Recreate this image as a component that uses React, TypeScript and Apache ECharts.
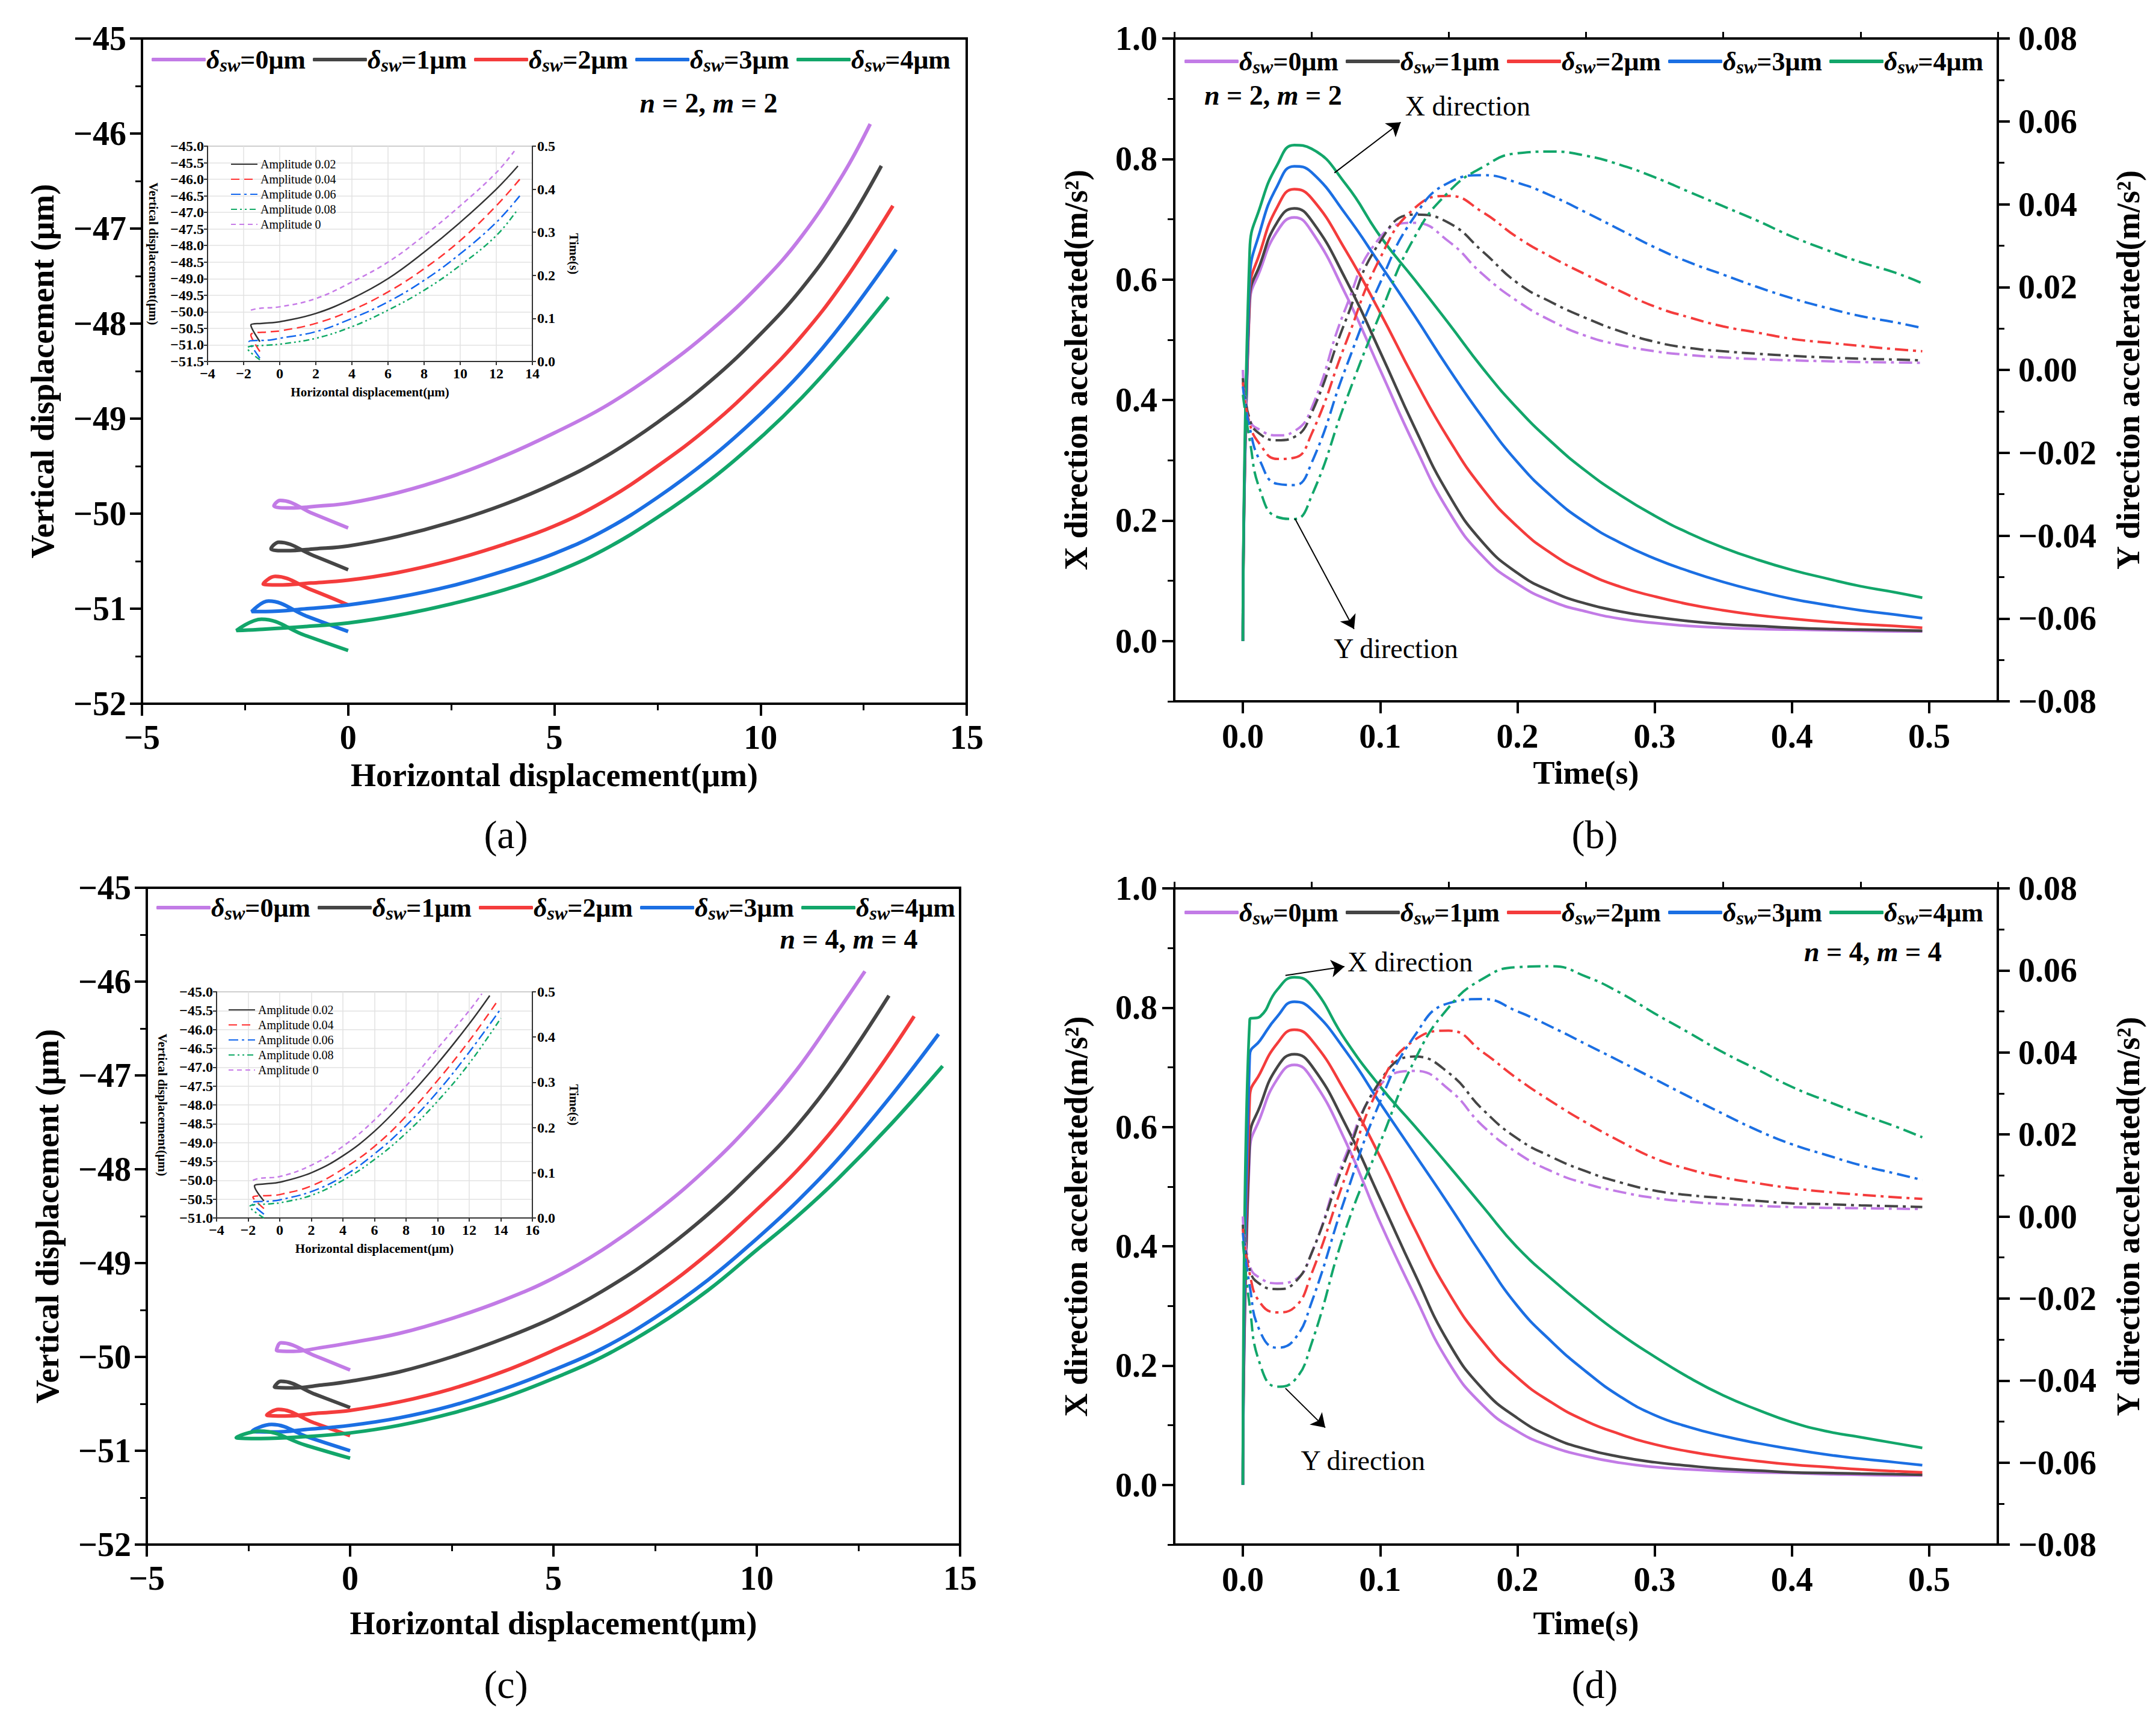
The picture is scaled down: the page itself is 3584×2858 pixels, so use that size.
import React, { useEffect, useRef } from 'react';
import * as echarts from 'echarts';

const SERIF = '"Liberation Serif", "Times New Roman", "DejaVu Serif", serif';

// legend names (the zero-width suffix keeps each panel's legend separate)
const swNames = ['δsw=0μm', 'δsw=1μm', 'δsw=2μm', 'δsw=3μm', 'δsw=4μm'];
const ampNames = ['Amplitude 0.02', 'Amplitude 0.04', 'Amplitude 0.06', 'Amplitude 0.08', 'Amplitude 0'];
const swColors = ['#c27be6', '#454545', '#f43c3c', '#1b6fe3', '#12a66a'];
const ampColors = ['#333333', '#ff3333', '#1166ee', '#11aa66', '#c77ce8'];

// (a) trajectories, n = 2, m = 2  [horizontal, vertical] in μm
const trajA0 = [[0, -50.15], [-0.85, -50.0], [-1.65, -49.86], [-1.8, -49.92], [-1.4, -49.94], [-0.7, -49.92], [0, -49.89], [1.2, -49.78], [2.5, -49.61], [3.8, -49.39], [5, -49.15], [6.2, -48.88], [7.5, -48.51], [8.8, -48.07], [10, -47.58], [11, -47.08], [12, -46.43], [12.66, -45.9]];
const trajA1 = [[0, -50.59], [-0.85, -50.44], [-1.68, -50.3], [-1.87, -50.37], [-1.5, -50.39], [-0.8, -50.37], [0, -50.34], [1.2, -50.24], [2.5, -50.09], [3.8, -49.9], [5, -49.68], [6.2, -49.41], [7.5, -49.04], [8.8, -48.6], [10, -48.11], [11, -47.63], [12, -47.03], [12.93, -46.34]];
const trajA2 = [[0, -50.96], [-0.9, -50.8], [-1.77, -50.66], [-2.06, -50.74], [-1.7, -50.75], [-0.9, -50.73], [0, -50.7], [1.2, -50.62], [2.5, -50.49], [3.8, -50.32], [5, -50.13], [6.2, -49.87], [7.5, -49.5], [8.8, -49.07], [10, -48.59], [11, -48.13], [12, -47.57], [13.21, -46.76]];
const trajA3 = [[0, -51.24], [-1, -51.08], [-1.93, -50.92], [-2.34, -51.03], [-2, -51.03], [-1, -51.0], [0, -50.96], [1.2, -50.88], [2.5, -50.76], [3.8, -50.6], [5, -50.42], [6.2, -50.18], [7.5, -49.83], [8.8, -49.41], [10, -48.95], [11, -48.51], [12, -47.99], [13.29, -47.22]];
const trajA4 = [[0, -51.44], [-1.05, -51.28], [-2.1, -51.11], [-2.71, -51.23], [-2.2, -51.22], [-1.1, -51.19], [0, -51.15], [1.2, -51.07], [2.5, -50.95], [3.8, -50.8], [5, -50.62], [6.2, -50.38], [7.5, -50.04], [8.8, -49.64], [10, -49.2], [11, -48.78], [12, -48.3], [13.1, -47.72]];

// (c) trajectories, n = 4, m = 4
const trajC0 = [[0, -50.14], [-0.85, -49.99], [-1.7, -49.85], [-1.81, -49.93], [-1.4, -49.94], [-0.7, -49.9], [0, -49.85], [1.2, -49.75], [2.5, -49.59], [3.8, -49.39], [5, -49.16], [6.2, -48.86], [7.5, -48.46], [8.8, -47.98], [10, -47.45], [11, -46.93], [12, -46.31], [12.66, -45.89]];
const trajC1 = [[0, -50.54], [-0.85, -50.4], [-1.7, -50.26], [-1.86, -50.32], [-1.4, -50.33], [-0.7, -50.3], [0, -50.26], [1.2, -50.16], [2.5, -50.0], [3.8, -49.8], [5, -49.58], [6.2, -49.3], [7.5, -48.93], [8.8, -48.48], [10, -47.99], [11, -47.53], [12, -46.97], [13.25, -46.15]];
const trajC2 = [[0, -50.84], [-0.9, -50.7], [-1.76, -50.56], [-2.05, -50.62], [-1.6, -50.63], [-0.8, -50.6], [0, -50.57], [1.2, -50.48], [2.5, -50.34], [3.8, -50.15], [5, -49.93], [6.2, -49.68], [7.5, -49.33], [8.8, -48.9], [10, -48.43], [11, -48.01], [12, -47.51], [13, -46.93], [13.87, -46.37]];
const trajC3 = [[0, -51.0], [-1, -50.86], [-1.93, -50.72], [-2.41, -50.79], [-1.9, -50.8], [-1, -50.77], [0, -50.73], [1.2, -50.65], [2.5, -50.52], [3.8, -50.34], [5, -50.14], [6.2, -49.91], [7.5, -49.58], [8.8, -49.18], [10, -48.74], [11, -48.34], [12, -47.89], [13.3, -47.22], [14.47, -46.56]];
const trajC4 = [[0, -51.08], [-1.1, -50.94], [-2.21, -50.79], [-2.8, -50.86], [-2.2, -50.87], [-1.1, -50.85], [0, -50.81], [1.2, -50.73], [2.5, -50.6], [3.8, -50.43], [5, -50.23], [6.2, -50.0], [7.5, -49.68], [8.8, -49.29], [10, -48.86], [11, -48.5], [12, -48.1], [13.3, -47.52], [14.57, -46.9]];

// insets (vertical vs horizontal projection of the 3D view)
const insetA0 = [[-1.1, -50.9], [-1.6, -50.4], [-1.0, -50.35], [0, -50.3], [2, -50.05], [4, -49.6], [6, -49.0], [8, -48.2], [10, -47.3], [12, -46.3], [13.2, -45.6]];
const insetA1 = [[-1.1, -51.2], [-1.6, -50.7], [-0.5, -50.6], [0, -50.58], [2, -50.35], [4, -49.95], [6, -49.4], [8, -48.7], [10, -47.85], [12, -46.8], [13.3, -46.0]];
const insetA2 = [[-1.1, -51.4], [-1.7, -50.9], [-0.5, -50.85], [0, -50.8], [2, -50.6], [4, -50.2], [6, -49.7], [8, -49.05], [10, -48.25], [12, -47.3], [13.3, -46.5]];
const insetA3 = [[-1.1, -51.45], [-1.8, -51.1], [-0.5, -51.0], [0, -50.98], [2, -50.8], [4, -50.45], [6, -49.95], [8, -49.35], [10, -48.6], [12, -47.7], [13.2, -46.9]];
const insetA4 = [[-1.6, -49.95], [-1.2, -49.9], [0, -49.85], [2, -49.6], [4, -49.1], [6, -48.5], [8, -47.7], [10, -46.8], [12, -45.8], [13, -45.15]];

const insetC0 = [[-1.0, -50.55], [-1.6, -50.15], [-1, -50.1], [0, -50.05], [2, -49.8], [4, -49.35], [6, -48.7], [8, -47.85], [10, -46.9], [12, -45.85], [13.3, -45.1]];
const insetC1 = [[-1.0, -50.75], [-1.7, -50.45], [-0.5, -50.4], [0, -50.38], [2, -50.15], [4, -49.7], [6, -49.1], [8, -48.3], [10, -47.35], [12, -46.3], [13.7, -45.3]];
const insetC2 = [[-1.0, -50.9], [-1.8, -50.6], [-0.5, -50.55], [0, -50.52], [2, -50.3], [4, -49.9], [6, -49.3], [8, -48.55], [10, -47.65], [12, -46.6], [14, -45.45]];
const insetC3 = [[-1.0, -51.0], [-1.9, -50.7], [-0.5, -50.62], [0, -50.6], [2, -50.4], [4, -50.0], [6, -49.45], [8, -48.75], [10, -47.9], [12, -46.9], [14, -45.7]];
const insetC4 = [[-1.7, -50.0], [-1.3, -49.95], [0, -49.9], [2, -49.6], [4, -49.1], [6, -48.4], [8, -47.5], [10, -46.5], [12, -45.5], [12.8, -45.05]];

// time samples for (b) and (d), seconds
const timeS = [0, 0.005, 0.0125, 0.025, 0.0375, 0.05, 0.075, 0.1, 0.125, 0.15, 0.175, 0.2, 0.225, 0.25, 0.275, 0.3, 0.325, 0.35, 0.375, 0.4, 0.425, 0.45, 0.475, 0.495];

// (b) X direction acceleration, m/s²
const accXB0 = [0, 0.56, 0.615, 0.68, 0.703, 0.68, 0.575, 0.45, 0.325, 0.215, 0.14, 0.095, 0.066, 0.049, 0.037, 0.03, 0.025, 0.022, 0.02, 0.019, 0.018, 0.017, 0.016, 0.016];
const accXB1 = [0, 0.57, 0.625, 0.695, 0.718, 0.698, 0.6, 0.48, 0.355, 0.243, 0.163, 0.113, 0.082, 0.062, 0.049, 0.04, 0.033, 0.028, 0.025, 0.022, 0.02, 0.019, 0.018, 0.017];
const accXB2 = [0, 0.58, 0.645, 0.72, 0.75, 0.735, 0.648, 0.545, 0.435, 0.335, 0.252, 0.19, 0.145, 0.113, 0.09, 0.074, 0.061, 0.051, 0.043, 0.037, 0.032, 0.028, 0.025, 0.022];
const accXB3 = [0, 0.6, 0.68, 0.755, 0.788, 0.778, 0.708, 0.625, 0.54, 0.452, 0.37, 0.297, 0.24, 0.196, 0.163, 0.137, 0.116, 0.098, 0.083, 0.07, 0.06, 0.051, 0.044, 0.038];
const accXB4 = [0, 0.65, 0.72, 0.79, 0.823, 0.817, 0.758, 0.672, 0.6, 0.527, 0.452, 0.386, 0.33, 0.282, 0.242, 0.208, 0.179, 0.155, 0.135, 0.118, 0.104, 0.091, 0.081, 0.072];

// (b) Y direction acceleration, m/s²
const accYB0 = [0, -0.012, -0.0145, -0.0158, -0.0148, -0.0093, 0.015, 0.032, 0.0355, 0.031, 0.023, 0.0166, 0.0118, 0.0082, 0.006, 0.0045, 0.0036, 0.003, 0.0026, 0.0023, 0.0021, 0.0019, 0.0018, 0.0017];
const accYB1 = [-0.002, -0.012, -0.0155, -0.017, -0.0162, -0.0105, 0.012, 0.031, 0.0375, 0.0355, 0.0285, 0.021, 0.0163, 0.0125, 0.0093, 0.0068, 0.0053, 0.0045, 0.0039, 0.0034, 0.003, 0.0027, 0.0025, 0.0023];
const accYB2 = [-0.003, -0.013, -0.018, -0.0215, -0.0212, -0.0155, 0.0065, 0.027, 0.039, 0.042, 0.038, 0.032, 0.0272, 0.023, 0.019, 0.0153, 0.0127, 0.0105, 0.009, 0.0075, 0.0066, 0.0058, 0.005, 0.0045];
const accYB3 = [-0.004, -0.014, -0.022, -0.0275, -0.0278, -0.0225, 0.0005, 0.021, 0.037, 0.0452, 0.047, 0.0452, 0.042, 0.038, 0.0338, 0.0296, 0.026, 0.023, 0.02, 0.0173, 0.015, 0.013, 0.0115, 0.0101];
const accYB4 = [-0.006, -0.017, -0.029, -0.0355, -0.036, -0.0305, -0.0075, 0.0135, 0.032, 0.043, 0.049, 0.0523, 0.0527, 0.0517, 0.0495, 0.0465, 0.043, 0.0395, 0.036, 0.0322, 0.029, 0.026, 0.0235, 0.0209];

// (d) X direction acceleration
const accXD0 = [0, 0.56, 0.615, 0.68, 0.704, 0.682, 0.575, 0.44, 0.318, 0.205, 0.133, 0.09, 0.064, 0.048, 0.037, 0.03, 0.026, 0.023, 0.021, 0.02, 0.018, 0.017, 0.016, 0.016];
const accXD1 = [0, 0.58, 0.635, 0.7, 0.722, 0.703, 0.603, 0.48, 0.355, 0.238, 0.16, 0.112, 0.08, 0.06, 0.047, 0.038, 0.032, 0.027, 0.024, 0.021, 0.02, 0.019, 0.018, 0.017];
const accXD2 = [0, 0.65, 0.69, 0.74, 0.763, 0.746, 0.657, 0.55, 0.43, 0.322, 0.24, 0.18, 0.138, 0.107, 0.085, 0.068, 0.056, 0.047, 0.04, 0.034, 0.03, 0.026, 0.023, 0.021];
const accXD3 = [0, 0.72, 0.745, 0.785, 0.81, 0.797, 0.727, 0.64, 0.555, 0.47, 0.382, 0.3, 0.24, 0.19, 0.148, 0.117, 0.097, 0.082, 0.07, 0.06, 0.051, 0.044, 0.038, 0.033];
const accXD4 = [0, 0.78, 0.785, 0.83, 0.851, 0.837, 0.745, 0.668, 0.602, 0.535, 0.466, 0.398, 0.345, 0.297, 0.253, 0.215, 0.18, 0.15, 0.126, 0.105, 0.09, 0.08, 0.07, 0.062];

// (d) Y direction acceleration
const accYD0 = [0, -0.012, -0.015, -0.0163, -0.0155, -0.009, 0.015, 0.032, 0.0355, 0.031, 0.022, 0.0155, 0.011, 0.008, 0.006, 0.0045, 0.0036, 0.003, 0.0026, 0.0023, 0.0021, 0.002, 0.0019, 0.0018];
const accYD1 = [-0.002, -0.013, -0.0165, -0.0177, -0.0162, -0.009, 0.014, 0.033, 0.039, 0.035, 0.026, 0.019, 0.0145, 0.011, 0.0083, 0.0063, 0.0052, 0.0045, 0.0038, 0.0032, 0.003, 0.0027, 0.0025, 0.0023];
const accYD2 = [-0.003, -0.014, -0.021, -0.0234, -0.0222, -0.014, 0.01, 0.032, 0.043, 0.0453, 0.04, 0.0336, 0.028, 0.0229, 0.0183, 0.0142, 0.0115, 0.0095, 0.0081, 0.0069, 0.006, 0.0053, 0.0047, 0.0043];
const accYD3 = [-0.004, -0.017, -0.028, -0.032, -0.03, -0.021, 0.005, 0.028, 0.044, 0.052, 0.053, 0.05, 0.0462, 0.042, 0.0378, 0.0335, 0.0292, 0.025, 0.021, 0.0176, 0.015, 0.0125, 0.0105, 0.0089];
const accYD4 = [-0.006, -0.022, -0.036, -0.0415, -0.04, -0.031, -0.003, 0.018, 0.038, 0.051, 0.058, 0.0608, 0.061, 0.0585, 0.0545, 0.0495, 0.0448, 0.04, 0.0358, 0.0316, 0.0282, 0.025, 0.022, 0.0193];

// tick values
const timeTicks = [0, 0.1, 0.2, 0.3, 0.4, 0.5];
const timeMinor = [-0.05, 0.05, 0.15, 0.25, 0.35, 0.45, 0.55];
const accTicks = [0, 0.2, 0.4, 0.6, 0.8, 1.0];
const accMinor = [-0.1, 0.1, 0.3, 0.5, 0.7, 0.9];

const fmt = (d: number) => (v: number) => (v < 0 ? '\u2212' : '') + Math.abs(v).toFixed(d);
const tag = (k: number) => '\u200b'.repeat(k);

const tickLabel = { fontSize: 56, fontWeight: 'bold', fontFamily: SERIF, color: '#000' };
const titleText = { fontSize: 54, fontWeight: 'bold', fontFamily: SERIF, color: '#000' };
const blackLine = { color: '#000', width: 4 };

const legendRich = {
  d: { fontSize: 44, fontStyle: 'italic', fontWeight: 'bold', fontFamily: SERIF, color: '#000' },
  s: { fontSize: 32, fontStyle: 'italic', fontWeight: 'bold', fontFamily: SERIF, color: '#000', padding: [18, 0, 0, 0] },
  t: { fontSize: 44, fontWeight: 'bold', fontFamily: SERIF, color: '#000' },
};

const swLegend = (k: number, left: number, top: number) => ({
  left,
  top,
  icon: 'roundRect',
  itemWidth: 90,
  itemHeight: 6,
  itemGap: 12,
  data: swNames.map((n) => n + tag(k)),
  formatter: (name: string) => '{d|δ}{s|sw}{t|' + name.replace(/\u200b/g, '').slice(3) + '}',
  textStyle: { rich: legendRich, padding: [0, 0, 0, -4] },
});

const ampLegend = (k: number, left: number, top: number) => ({
  left,
  top,
  orient: 'vertical',
  itemWidth: 44,
  itemHeight: 10,
  itemGap: 5,
  itemStyle: { opacity: 0 },
  data: ampNames.map((n) => n + tag(k)),
  formatter: (name: string) => name.replace(/\u200b/g, ''),
  textStyle: { fontSize: 20, fontFamily: SERIF, color: '#000' },
});

const dispX = (gridIndex: number, nameGap: number) => ({
  gridIndex,
  type: 'value',
  min: -5,
  max: 15,
  interval: 5,
  axisLine: { onZero: false, lineStyle: blackLine },
  axisTick: { length: 20, lineStyle: blackLine },
  minorTick: { show: true, splitNumber: 2, length: 11, lineStyle: { color: '#000', width: 3 } },
  splitLine: { show: false },
  axisLabel: { ...tickLabel, margin: 28, formatter: fmt(0) },
  name: 'Horizontal displacement(μm)',
  nameLocation: 'middle',
  nameGap,
  nameTextStyle: titleText,
});

const dispY = (gridIndex: number) => ({
  gridIndex,
  type: 'value',
  min: -52,
  max: -45,
  interval: 1,
  axisLine: { onZero: false, lineStyle: blackLine },
  axisTick: { length: 20, lineStyle: blackLine },
  minorTick: { show: true, splitNumber: 2, length: 11, lineStyle: { color: '#000', width: 3 } },
  splitLine: { show: false },
  axisLabel: { ...tickLabel, margin: 26, formatter: fmt(0) },
  name: 'Vertical displacement (μm)',
  nameLocation: 'middle',
  nameRotate: 90,
  nameGap: 138,
  nameTextStyle: titleText,
});

const insetStyle = { fontSize: 24, fontWeight: 'bold', fontFamily: SERIF, color: '#000' };
const insetName = { fontSize: 21, fontWeight: 'bold', fontFamily: SERIF, color: '#000' };
const insetLine = { color: '#333', width: 2 };

const insetX = (gridIndex: number, max: number) => ({
  gridIndex,
  type: 'value',
  min: -4,
  max,
  interval: 2,
  axisLine: { onZero: false, lineStyle: insetLine },
  axisTick: { length: 6, lineStyle: insetLine },
  splitLine: { show: true, lineStyle: { color: '#e2e2e2', width: 1.5 } },
  axisLabel: { ...insetStyle, margin: 8, formatter: fmt(0) },
  name: 'Horizontal displacement(μm)',
  nameLocation: 'middle',
  nameGap: 40,
  nameTextStyle: insetName,
});

const insetY = (gridIndex: number, min: number) => ({
  gridIndex,
  type: 'value',
  min,
  max: -45,
  interval: 0.5,
  axisLine: { onZero: false, lineStyle: insetLine },
  axisTick: { length: 6, lineStyle: insetLine },
  splitLine: { show: true, lineStyle: { color: '#e2e2e2', width: 1.5 } },
  axisLabel: { ...insetStyle, margin: 6, formatter: fmt(1) },
  name: 'Vertical displacement(μm)',
  nameLocation: 'middle',
  nameRotate: -90,
  nameGap: 80,
  nameTextStyle: insetName,
});

const insetT = (gridIndex: number) => ({
  gridIndex,
  type: 'value',
  position: 'right',
  min: 0,
  max: 0.5,
  interval: 0.1,
  axisLine: { onZero: false, lineStyle: insetLine },
  axisTick: { length: 6, lineStyle: insetLine },
  splitLine: { show: false },
  axisLabel: { ...insetStyle, margin: 8, formatter: fmt(1) },
  name: 'Time(s)',
  nameLocation: 'middle',
  nameRotate: -90,
  nameGap: 58,
  nameTextStyle: insetName,
});

const timeAxes = (gridIndex: number, nameGap: number) => [
  {
    gridIndex,
    type: 'value',
    min: -0.05,
    max: 0.55,
    axisLine: { onZero: false, lineStyle: blackLine },
    axisTick: { length: 20, lineStyle: blackLine, customValues: timeTicks },
    splitLine: { show: false },
    axisLabel: { ...tickLabel, margin: 30, customValues: timeTicks, formatter: fmt(1) },
    name: 'Time(s)',
    nameLocation: 'middle',
    nameGap,
    nameTextStyle: titleText,
  },
  {
    gridIndex,
    type: 'value',
    min: -0.05,
    max: 0.55,
    axisLine: { show: false, onZero: false },
    axisTick: { length: 11, lineStyle: { color: '#000', width: 3 }, customValues: timeMinor },
    splitLine: { show: false },
    axisLabel: { show: false },
  },
];

const accAxes = (gridIndex: number) => [
  {
    gridIndex,
    type: 'value',
    position: 'left',
    min: -0.1,
    max: 1.0,
    axisLine: { onZero: false, lineStyle: blackLine },
    axisTick: { length: 20, lineStyle: blackLine, customValues: accTicks },
    splitLine: { show: false },
    axisLabel: { ...tickLabel, margin: 28, customValues: accTicks, formatter: fmt(1) },
    name: 'X direction accelerated(m/s²)',
    nameLocation: 'middle',
    nameRotate: 90,
    nameGap: 136,
    nameTextStyle: titleText,
  },
  {
    gridIndex,
    type: 'value',
    position: 'left',
    min: -0.1,
    max: 1.0,
    axisLine: { show: false, onZero: false },
    axisTick: { length: 11, lineStyle: { color: '#000', width: 3 }, customValues: accMinor },
    splitLine: { show: false },
    axisLabel: { show: false },
  },
  {
    gridIndex,
    type: 'value',
    position: 'right',
    min: -0.08,
    max: 0.08,
    interval: 0.02,
    axisLine: { onZero: false, lineStyle: blackLine },
    axisTick: { length: 20, lineStyle: blackLine },
    minorTick: { show: true, splitNumber: 2, length: 11, lineStyle: { color: '#000', width: 3 } },
    splitLine: { show: false },
    axisLabel: { ...tickLabel, margin: 34, formatter: fmt(2) },
    name: 'Y direction accelerated(m/s²)',
    nameLocation: 'middle',
    nameRotate: 90,
    nameGap: 190,
    nameTextStyle: titleText,
  },
];

const line = (name: string, data: number[][], color: string, xi: number, yi: number, width: number, type: any, smooth: number, extra: any = {}) => ({
  type: 'line',
  name,
  data,
  xAxisIndex: xi,
  yAxisIndex: yi,
  symbol: 'none',
  smooth,
  lineStyle: { color, width, type },
  itemStyle: { color },
  ...extra,
});

const pairs = (vals: number[]) => timeS.map((t, i) => [t, vals[i]]);
const dashDot = [22, 8, 5, 8];
const ampTypes: any[] = ['solid', [14, 8], [16, 6, 4, 6], [10, 5, 3, 5, 3, 5], [8, 6]];

const annot = (xArrow: number[][], yArrow: number[][], xText: number[], yText: number[]) => ({
  markLine: {
    silent: true,
    symbol: ['none', 'arrow'],
    symbolSize: 22,
    label: { show: false },
    lineStyle: { color: '#000', width: 2, type: 'solid' },
    data: [
      [{ coord: xArrow[0] }, { coord: xArrow[1] }],
      [{ coord: yArrow[0] }, { coord: yArrow[1] }],
    ],
  },
  markPoint: {
    silent: true,
    symbol: 'circle',
    symbolSize: 1,
    itemStyle: { color: 'rgba(0,0,0,0)' },
    label: { show: true, position: 'right', distance: 0, fontSize: 46, fontFamily: SERIF, color: '#000' },
    data: [
      { coord: xText, label: { formatter: 'X direction' } },
      { coord: yText, label: { formatter: 'Y direction' } },
    ],
  },
});

const nmText = (x: number, y: number, v: number, align: string) => ({
  type: 'text',
  x,
  y,
  style: {
    text: `{i|n} = ${v}, {i|m} = ${v}`,
    fontSize: 46,
    fontWeight: 'bold',
    fontFamily: SERIF,
    fill: '#000',
    align,
    verticalAlign: 'middle',
    rich: { i: { fontSize: 46, fontWeight: 'bold', fontStyle: 'italic', fontFamily: SERIF } },
  },
});

const panelTag = (x: number, y: number, text: string) => ({
  type: 'text',
  x,
  y,
  style: { text, fontSize: 66, fontFamily: SERIF, fill: '#000', align: 'center', verticalAlign: 'middle' },
});

function buildOption() {
  const trajA = [trajA0, trajA1, trajA2, trajA3, trajA4];
  const trajC = [trajC0, trajC1, trajC2, trajC3, trajC4];
  const insetA = [insetA0, insetA1, insetA2, insetA3, insetA4];
  const insetC = [insetC0, insetC1, insetC2, insetC3, insetC4];
  const xB = [accXB0, accXB1, accXB2, accXB3, accXB4];
  const yB = [accYB0, accYB1, accYB2, accYB3, accYB4];
  const xD = [accXD0, accXD1, accXD2, accXD3, accXD4];
  const yD = [accYD0, accYD1, accYD2, accYD3, accYD4];

  // xAxis: 0 a, 1 a-inset, 2-3 b, 4 c, 5 c-inset, 6-7 d
  // yAxis: 0 a, 1 a-inset, 2 a-inset time, 3-5 b, 6 c, 7 c-inset, 8 c-inset time, 9-11 d
  const series: any[] = [];
  trajA.forEach((d, i) => series.push(line(swNames[i] + tag(0), d, swColors[i], 0, 0, 6, 'solid', 0.4)));
  insetA.forEach((d, i) => series.push(line(ampNames[i] + tag(0), d, ampColors[i], 1, 1, 2.5, ampTypes[i], 0.4)));
  xB.forEach((v, i) =>
    series.push(
      line(swNames[i] + tag(1), pairs(v), swColors[i], 2, 3, 4.5, 'solid', 0.5,
        i === 4 ? annot([[0.0667, 0.777], [0.115, 0.861]], [[0.038, 0.203], [0.081, 0.02]], [0.118, 0.888], [0.066, -0.013]) : {})
    )
  );
  yB.forEach((v, i) => series.push(line(swNames[i] + tag(1), pairs(v), swColors[i], 2, 5, 4, dashDot, 0.5)));
  trajC.forEach((d, i) => series.push(line(swNames[i] + tag(2), d, swColors[i], 4, 6, 6, 'solid', 0.4)));
  insetC.forEach((d, i) => series.push(line(ampNames[i] + tag(1), d, ampColors[i], 5, 7, 2.5, ampTypes[i], 0.4)));
  xD.forEach((v, i) =>
    series.push(
      line(swNames[i] + tag(3), pairs(v), swColors[i], 6, 9, 4.5, 'solid', 0.5,
        i === 4 ? annot([[0.031, 0.854], [0.074, 0.869]], [[0.031, 0.162], [0.06, 0.096]], [0.076, 0.876], [0.042, 0.041]) : {})
    )
  );
  yD.forEach((v, i) => series.push(line(swNames[i] + tag(3), pairs(v), swColors[i], 6, 11, 4, dashDot, 0.5)));

  const frame = { show: true, borderColor: '#000', borderWidth: 4, backgroundColor: 'transparent' };
  const insetFrame = { show: true, borderColor: '#777', borderWidth: 1.5, backgroundColor: 'transparent' };

  return {
    animation: false,
    backgroundColor: '#ffffff',
    grid: [
      { left: 236, top: 64, width: 1371, height: 1106, ...frame },
      { left: 345, top: 243, width: 540, height: 358, ...insetFrame },
      { left: 1952, top: 64, width: 1369, height: 1102, ...frame },
      { left: 244, top: 1476, width: 1352, height: 1092, ...frame },
      { left: 360, top: 1649, width: 525, height: 376, ...insetFrame },
      { left: 1952, top: 1477, width: 1369, height: 1091, ...frame },
    ],
    xAxis: [
      dispX(0, 92),
      insetX(1, 14),
      ...timeAxes(2, 92),
      dispX(3, 104),
      insetX(4, 16),
      ...timeAxes(5, 104),
    ],
    yAxis: [
      dispY(0),
      insetY(1, -51.5),
      insetT(1),
      ...accAxes(2),
      dispY(3),
      insetY(4, -51),
      insetT(4),
      ...accAxes(5),
    ],
    legend: [
      swLegend(0, 247, 72),
      ampLegend(0, 378, 258),
      swLegend(1, 1964, 75),
      swLegend(2, 255, 1482),
      ampLegend(1, 374, 1664),
      swLegend(3, 1964, 1490),
    ],
    graphic: [
      nmText(1178, 171, 2, 'center'),
      nmText(2002, 158, 2, 'left'),
      nmText(1411, 1561, 4, 'center'),
      nmText(2999, 1582, 4, 'left'),
      panelTag(841, 1387, '(a)'),
      panelTag(2651, 1387, '(b)'),
      panelTag(841, 2800, '(c)'),
      panelTag(2651, 2800, '(d)'),
    ],
    series,
  };
}

const App: React.FC = () => {
  const chartRef = useRef<HTMLDivElement>(null);

  useEffect(() => {
    if (!chartRef.current) return;
    const chart = echarts.init(chartRef.current, null, { renderer: 'svg' });
    chart.setOption(buildOption() as any);
    return () => {
      chart.dispose();
    };
  }, []);

  return (
    <div
      ref={chartRef}
      style={{ position: 'absolute', left: 0, top: 0, width: 3584, height: 2858, background: '#ffffff' }}
    />
  );
};

export default App;
